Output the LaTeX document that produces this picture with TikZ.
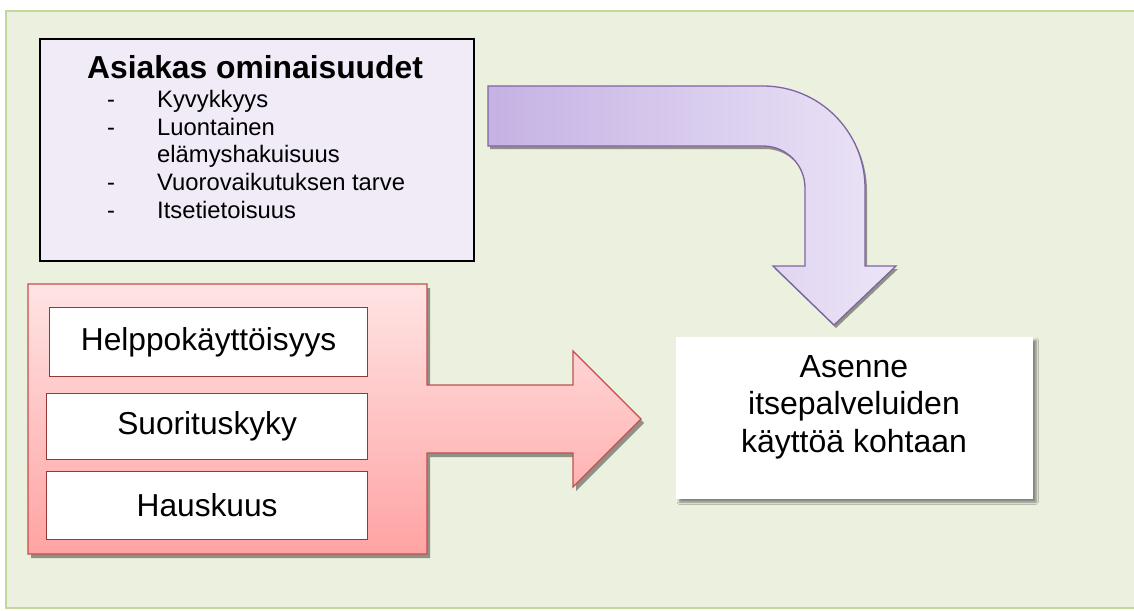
\documentclass[tikz,border=0pt]{standalone}
\usepackage{fontspec}
\setmainfont{Liberation Sans}
\usetikzlibrary{shadows.blur}

\definecolor{bgfill}{HTML}{EBF1DE}
\definecolor{bgline}{HTML}{C3D69B}
\definecolor{lavbox}{HTML}{F0EBF7}
\definecolor{redtop}{HTML}{FFE4E4}
\definecolor{redbot}{HTML}{FFA3A3}
\definecolor{redline}{HTML}{C0504D}
\definecolor{darkred}{HTML}{953735}
\definecolor{purleft}{HTML}{C5B2E4}
\definecolor{purright}{HTML}{ECE5F7}
\definecolor{purline}{HTML}{8064A2}
\definecolor{shadowgrey}{HTML}{8F9186}

\tikzset{
  titletext/.style={font=\fontsize{31.8}{36}\selectfont\bfseries, inner sep=0pt, anchor=base},
  listtext/.style={font=\fontsize{23.8}{28}\selectfont, inner sep=0pt, anchor=base west},
  listdash/.style={font=\fontsize{23.8}{28}\selectfont, inner sep=0pt, anchor=base},
  itembox/.style={draw=darkred, fill=white, line width=1.2pt, inner sep=0pt},
  itemtext/.style={font=\fontsize{31.7}{36}\selectfont, inner sep=0pt},
  resulttext/.style={font=\fontsize{32}{37}\selectfont, inner sep=0pt, anchor=base},
}

\begin{document}
\begin{tikzpicture}[x=1pt,y=-1pt]
\useasboundingbox (0,0) rectangle (1134,610);
\begin{scope}
\clip (0,0) rectangle (1134,610);
% green backdrop
\draw[fill=bgfill, draw=bgline, line width=2pt] (6,11) rectangle (1145,608);
\end{scope}

% customer characteristics box
\node[draw=black, fill=lavbox, line width=1.6pt, minimum width=434pt, minimum height=222pt,
      anchor=north west, inner sep=0pt] (traits) at (39,38) {};
\node[titletext] (title) at (255,78) {Asiakas ominaisuudet};
\node[listdash] (d1) at (111,107) {-};
\node[listtext] (l1) at (157,107) {Kyvykkyys};
\node[listdash] (d2) at (111,135) {-};
\node[listtext] (l2) at (157,135) {Luontainen};
\node[listtext] (l2b) at (157,162) {elämyshakuisuus};
\node[listdash] (d3) at (111,190) {-};
\node[listtext] (l3) at (157,190) {Vuorovaikutuksen tarve};
\node[listdash] (d4) at (111,218) {-};
\node[listtext] (l4) at (157,218) {Itsetietoisuus};

% bent arrow from the characteristics down to the attitude
\def\bentarrow{(488,86) -- (763,86) arc[start angle=-90, end angle=0, radius=102]
  -- (865,266) -- (896,266) -- (834,325) -- (773,266) -- (805,266) -- (805,188)
  arc[start angle=0, end angle=-90, radius=42] -- (488,146) -- cycle}
\fill[shadowgrey, shift={(2,3)}] \bentarrow;
\shade[left color=purleft, right color=purright] \bentarrow;
\draw[purline, line width=1.3pt, line join=miter] \bentarrow;

% red block arrow holding the three factors
\def\redarrow{(28,284) -- (427,284) -- (427,385) -- (573,385) -- (573,351) -- (641,419)
  -- (573,487) -- (573,453) -- (427,453) -- (427,554) -- (28,554) -- cycle}
\fill[shadowgrey, shift={(3,4)}] \redarrow;
\shade[top color=redtop, bottom color=redbot] \redarrow;
\draw[redline, line width=1.2pt] \redarrow;

\node[itembox, minimum width=318pt, minimum height=69pt, anchor=north west] (b1) at (49,307) {};
\node[itemtext] (t1) at (b1.center) {Helppokäyttöisyys};
\node[itembox, minimum width=321pt, minimum height=66pt, anchor=north west] (b2) at (46,393) {};
\node[itemtext] (t2) at (b2.center) {Suorituskyky};
\node[itembox, minimum width=321pt, minimum height=68pt, anchor=north west] (b3) at (46,471) {};
\node[itemtext] (t3) at (b3.center) {Hauskuus};

% attitude box
\node[fill=white, minimum width=357pt, minimum height=162pt, anchor=north west, inner sep=0pt,
      blur shadow={shadow xshift=3pt, shadow yshift=-3pt, shadow blur steps=6, shadow opacity=45}]
      (attitude) at (676,337) {};
\node[resulttext] (a1) at (854,377) {Asenne};
\node[resulttext] (a2) at (854,414) {itsepalveluiden};
\node[resulttext] (a3) at (854,452) {käyttöä kohtaan};
\end{tikzpicture}
\end{document}
